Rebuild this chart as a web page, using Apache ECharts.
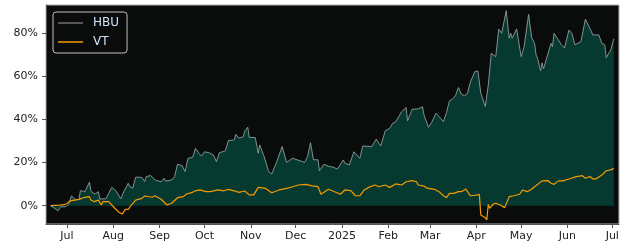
<!DOCTYPE html>
<html>
<head>
<meta charset="utf-8">
<script src="https://cdn.jsdelivr.net/npm/echarts@6/dist/echarts.min.js"></script>
<style>
html,body{margin:0;padding:0;background:#ffffff;}
#chart{width:625px;height:250px;}
</style>
</head>
<body>
<div id="chart"></div>
<script>
const hbuDates = ['2024-06-20','2024-06-25','2024-06-27','2024-06-30','2024-07-02','2024-07-04','2024-07-07','2024-07-09','2024-07-10','2024-07-13','2024-07-16','2024-07-17','2024-07-18','2024-07-20','2024-07-22','2024-07-23','2024-07-25','2024-07-27','2024-07-28','2024-07-31','2024-08-03','2024-08-06','2024-08-08','2024-08-11','2024-08-12','2024-08-14','2024-08-16','2024-08-20','2024-08-21','2024-08-22','2024-08-23','2024-08-26','2024-08-29','2024-09-02','2024-09-04','2024-09-05','2024-09-09','2024-09-11','2024-09-13','2024-09-16','2024-09-18','2024-09-20','2024-09-23','2024-09-24','2024-09-25','2024-09-27','2024-09-29','2024-10-01','2024-10-04','2024-10-07','2024-10-09','2024-10-11','2024-10-15','2024-10-17','2024-10-21','2024-10-22','2024-10-24','2024-10-27','2024-10-28','2024-10-30','2024-10-31','2024-11-04','2024-11-06','2024-11-07','2024-11-10','2024-11-13','2024-11-15','2024-11-18','2024-11-20','2024-11-22','2024-11-25','2024-11-29','2024-12-02','2024-12-07','2024-12-09','2024-12-11','2024-12-13','2024-12-16','2024-12-17','2024-12-20','2024-12-23','2024-12-26','2024-12-29','2025-01-02','2025-01-03','2025-01-06','2025-01-09','2025-01-13','2025-01-15','2025-01-21','2025-01-24','2025-01-27','2025-01-30','2025-02-02','2025-02-04','2025-02-06','2025-02-10','2025-02-11','2025-02-13','2025-02-14','2025-02-17','2025-02-21','2025-02-24','2025-02-25','2025-02-28','2025-03-02','2025-03-05','2025-03-07','2025-03-10','2025-03-12','2025-03-14','2025-03-16','2025-03-18','2025-03-20','2025-03-22','2025-03-24','2025-03-26','2025-03-28','2025-03-31','2025-04-02','2025-04-04','2025-04-07','2025-04-09','2025-04-11','2025-04-14','2025-04-16','2025-04-18','2025-04-21','2025-04-23','2025-04-24','2025-04-25','2025-04-28','2025-05-01','2025-05-03','2025-05-06','2025-05-08','2025-05-10','2025-05-11','2025-05-12','2025-05-14','2025-05-15','2025-05-16','2025-05-21','2025-05-22','2025-05-23','2025-05-28','2025-05-30','2025-06-02','2025-06-04','2025-06-05','2025-06-06','2025-06-10','2025-06-13','2025-06-16','2025-06-18','2025-06-22','2025-06-24','2025-06-26','2025-06-27','2025-06-30','2025-07-02'];
const hbuValues = [0,-2.3,-0.5,-0.5,0.5,4.5,2.6,3,7,6.5,10.9,7,6,5.5,6.5,3,3.2,3.2,4.5,8.5,6.7,3.2,6.5,10.4,8.9,8.1,13.2,13.2,13.8,11.2,13.5,14,11.9,11.1,12.7,11.4,11.9,13.5,19.2,18.6,15.8,22,22.4,24.3,26.6,24.6,23,25,24.6,23.5,20.4,24.6,25.4,30.2,30.5,33.1,31.3,32,34.7,36.4,31.7,31.6,24.3,28.2,22.7,15.8,14.7,19.7,23.5,27.4,20.1,22,21.3,20.1,22.7,29.2,21.3,21.3,16.2,19.2,18.3,17.9,17,21.2,19.7,18.9,25,22,27.7,27.4,30.9,27.7,34.7,35.9,38.2,38.9,43.6,42.8,45.5,39.4,44.7,44.9,45.9,42,36.4,38.5,42.9,41.4,39,43.2,48.6,49.4,51,54.8,51.7,51,52,57.3,62.2,62.5,52.2,46,56,70.7,69.1,81.9,80,90.5,77.7,80,77.7,82,69.1,73.8,88.8,78.1,75.3,69.9,68.4,62.5,66.3,63.5,75.3,73.8,80,74.6,73.1,81.5,79.9,80.5,74.6,76.1,86.5,82.3,79.2,79.2,75.3,74.6,68.7,72.3,77.4];

const vtDates = ['2024-06-20','2024-06-26','2024-06-30','2024-07-03','2024-07-06','2024-07-09','2024-07-12','2024-07-16','2024-07-17','2024-07-19','2024-07-22','2024-07-24','2024-07-25','2024-07-29','2024-07-31','2024-08-02','2024-08-05','2024-08-07','2024-08-09','2024-08-11','2024-08-13','2024-08-16','2024-08-20','2024-08-22','2024-08-27','2024-08-29','2024-09-02','2024-09-06','2024-09-09','2024-09-13','2024-09-17','2024-09-19','2024-09-23','2024-09-25','2024-09-28','2024-10-02','2024-10-05','2024-10-10','2024-10-14','2024-10-17','2024-10-21','2024-10-24','2024-10-28','2024-10-31','2024-11-03','2024-11-06','2024-11-11','2024-11-15','2024-11-20','2024-11-25','2024-11-29','2024-12-03','2024-12-08','2024-12-09','2024-12-12','2024-12-16','2024-12-18','2024-12-23','2024-12-26','2024-12-31','2025-01-03','2025-01-07','2025-01-10','2025-01-13','2025-01-16','2025-01-19','2025-01-23','2025-01-26','2025-01-30','2025-02-02','2025-02-06','2025-02-10','2025-02-13','2025-02-17','2025-02-20','2025-02-21','2025-02-25','2025-02-27','2025-03-04','2025-03-07','2025-03-10','2025-03-12','2025-03-14','2025-03-17','2025-03-20','2025-03-22','2025-03-25','2025-03-28','2025-04-01','2025-04-03','2025-04-04','2025-04-07','2025-04-08','2025-04-09','2025-04-10','2025-04-12','2025-04-14','2025-04-17','2025-04-20','2025-04-23','2025-04-26','2025-04-30','2025-05-02','2025-05-05','2025-05-08','2025-05-10','2025-05-15','2025-05-19','2025-05-21','2025-05-23','2025-05-26','2025-05-29','2025-06-02','2025-06-07','2025-06-11','2025-06-13','2025-06-16','2025-06-18','2025-06-20','2025-06-24','2025-06-27','2025-06-30','2025-07-02'];
const vtValues = [0,0.3,0.6,2.2,2.6,2.9,3.7,4.2,2.6,1.9,2.6,0.3,1.9,1.9,0.3,-1.2,-3.2,-3.9,-1.7,-1.7,0.3,2.6,3.4,4.5,3.9,4.6,3,0.3,1.1,3.7,4.2,5.4,6.2,6.9,7.3,6.5,6.5,7.3,6.9,7.6,6.9,6.2,6.8,5,5,8.5,8,6,7.3,8,8.8,9.6,9.9,9.2,9.2,8.8,5.3,7.6,6.8,5.3,7.3,7,4.6,4.6,7.3,8.5,9.6,8.8,9.6,8.5,10.1,9.6,11.1,11.6,11.1,9.6,9.1,8.1,7.6,6.5,4.6,3.7,5.7,5.7,6.5,6.5,7.7,4.6,4.9,5.3,-4.3,-5.6,-6.6,0.6,-1.2,0.6,1.1,0.3,-0.9,4.2,4.6,5.3,7.3,6.5,7.6,8.8,11.5,11.6,10.4,9.9,11.5,11.5,12.4,13.5,13.9,12.7,13.5,12.4,12.4,14.2,16.2,16.6,17.3];

const xTickDates = ['2024-07-01','2024-08-01','2024-09-01','2024-10-01','2024-11-01','2024-12-01','2025-01-01','2025-02-01','2025-03-01','2025-04-01','2025-05-01','2025-06-01','2025-07-01'];
const xTickLabels = ['Jul','Aug','Sep','Oct','Nov','Dec','2025','Feb','Mar','Apr','May','Jun','Jul'];
const yTickValues = [0,20,40,60,80];
const seriesNames = ['HBU','VT'];

const ts = s => Date.parse(s + 'T00:00:00Z');
const DAY = 86400000;
const xTickTs = xTickDates.map(ts);
const xMin = ts('2024-06-17') - 0.06 * DAY;
const xMax = ts('2025-07-05') + 0.5 * DAY;

const chart = echarts.init(document.getElementById('chart'), null, {renderer: 'canvas'});
const font = 'DejaVu Sans';
chart.setOption({
  animation: false,
  backgroundColor: '#ffffff',
  grid: {left: 46, right: 6, top: 5, bottom: 26, show: true, backgroundColor: '#0a0c0b', borderColor: '#b0b0b0', borderWidth: 1},
  legend: {
    left: 53, top: 12, orient: 'vertical',
    backgroundColor: '#0a0c0b', borderColor: '#bdbdbd', borderWidth: 1, borderRadius: 3,
    padding: [5, 8, 5, 5], itemGap: 7, itemWidth: 25, itemHeight: 1.5,
    textStyle: {color: '#cde0f5', fontFamily: font, fontSize: 12, lineHeight: 12, padding: [0, 0, 0, 5]},
    data: [
      {name: seriesNames[0], icon: 'rect', itemStyle: {color: '#6f6f6f'}},
      {name: seriesNames[1], icon: 'rect', itemStyle: {color: '#f59b00'}}
    ]
  },
  xAxis: {
    type: 'value', min: xMin, max: xMax, scale: true,
    splitLine: {show: false},
    axisLine: {show: true, onZero: false, lineStyle: {color: '#555', width: 1}},
    axisTick: {show: true, length: 4, lineStyle: {color: '#555'}, customValues: xTickTs},
    axisLabel: {
      customValues: xTickTs, color: '#222', fontFamily: font, fontSize: 11, margin: 7,
      formatter: function (v) {
        const i = xTickTs.indexOf(+v);
        return i >= 0 ? xTickLabels[i] : '';
      }
    }
  },
  yAxis: {
    type: 'value', min: -8.5, max: 93.1,
    splitLine: {show: false},
    axisLine: {show: true, lineStyle: {color: '#555', width: 1}},
    axisTick: {show: true, length: 4, lineStyle: {color: '#555'}, customValues: yTickValues},
    axisLabel: {customValues: yTickValues, color: '#222', fontFamily: font, fontSize: 11, margin: 8, formatter: v => v + '%'}
  },
  series: [
    {
      name: seriesNames[0], type: 'line', symbol: 'none', z: 2,
      data: hbuDates.map((d, i) => [ts(d), hbuValues[i]]),
      lineStyle: {color: '#8f9d9b', width: 0.9},
      itemStyle: {color: '#6f6f6f'},
      areaStyle: {color: '#063a31', opacity: 1, origin: 0}
    },
    {
      name: seriesNames[1], type: 'line', symbol: 'none', z: 3,
      data: vtDates.map((d, i) => [ts(d), vtValues[i]]),
      lineStyle: {color: '#f59b00', width: 1.2},
      itemStyle: {color: '#f59b00'}
    }
  ]
});
</script>
</body>
</html>
